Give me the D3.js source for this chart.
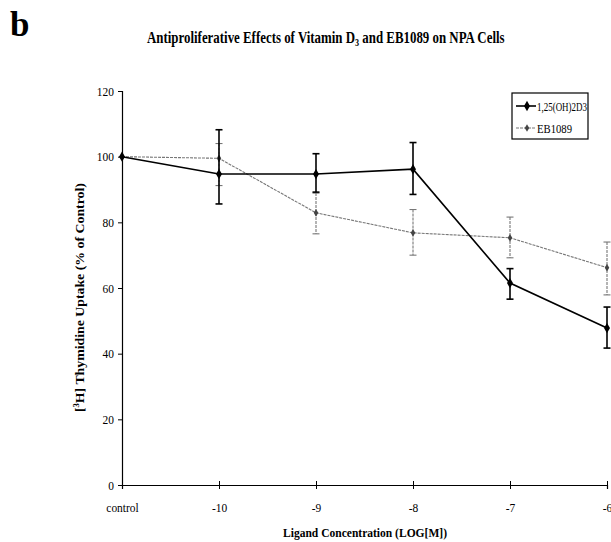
<!DOCTYPE html>
<html>
<head>
<meta charset="utf-8">
<script src="https://cdn.jsdelivr.net/npm/d3@7"></script>
<style>
  body { margin: 0; background: #fff; }
  text { font-family: "Liberation Serif", "Times New Roman", serif; }
</style>
</head>
<body>
<script>
// categories on the x axis (log molar concentration)
const doses = ["control", "-10", "-9", "-8", "-7", "-6"];

// 1,25(OH)2D3
const calcitriolMean = [100, 94.7, 94.7, 96.2, 61.5, 47.8];
const calcitriolHi   = [100, 108.2, 100.9, 104.3, 65.9, 54.2];
const calcitriolLo   = [100, 85.6, 89.2, 88.5, 56.6, 41.7];

// EB1089
const ebMean = [100, 99.5, 82.9, 76.8, 75.3, 66.2];
const ebHi   = [100, 104.0, 88.9, 83.9, 81.6, 74.0];
const ebLo   = [100, 91.2, 76.5, 70.0, 69.2, 57.9];

const yTicks = [0, 20, 40, 60, 80, 100, 120];

const width = 611, height = 542;
const margin = {top: 91, right: 4, bottom: 57, left: 122};

const svg = d3.select("body").append("svg")
  .attr("width", width)
  .attr("height", height)
  .style("overflow", "visible");

const x = d3.scalePoint()
  .domain(doses)
  .range([margin.left, width - margin.right]);

const y = d3.scaleLinear()
  .domain([0, 120])
  .range([height - margin.bottom, margin.top]);

// the scan uses a narrow Times, so squeeze text to the measured widths
function squeeze(sel, w) {
  sel.attr("textLength", w).attr("lengthAdjust", "spacingAndGlyphs");
}

// panel letter and title
svg.append("text")
  .attr("x", 10).attr("y", 36)
  .attr("font-size", 35).attr("font-weight", "bold")
  .text("b");

// title squeezed with a horizontal scale (keeps the subscript in place)
const titleG = svg.append("g").attr("transform", "translate(147,43)");
const title = titleG.append("text")
  .attr("font-size", 16).attr("font-weight", "bold");
title.append("tspan").text("Antiproliferative Effects of Vitamin D");
title.append("tspan").attr("font-size", 10).attr("dy", 3).text("3");
title.append("tspan").attr("dy", -3).text(" and EB1089 on NPA Cells");
const tw = title.node().getComputedTextLength();
title.attr("transform", `scale(${358 / tw},1)`);

// y axis
const yAxis = svg.append("g")
  .attr("transform", `translate(${margin.left},0)`)
  .call(d3.axisLeft(y).tickValues(yTicks).tickSize(4).tickPadding(4));
yAxis.select(".domain").attr("stroke", "#000").attr("stroke-width", 1.2);
yAxis.selectAll("text").attr("font-size", 13).attr("font-family", "Liberation Serif")
  .attr("transform", "scale(0.88,1)").attr("x", -8 / 0.88);

// x axis with crossing ticks
const xAxis = svg.append("g")
  .attr("transform", `translate(0,${y(0)})`)
  .call(d3.axisBottom(x).tickSizeOuter(0).tickSize(4).tickPadding(14));
xAxis.select(".domain").attr("stroke", "#000").attr("stroke-width", 1.2);
xAxis.selectAll(".tick line").attr("y1", -4);
xAxis.selectAll(".tick").filter(d => d === "control").select("line").remove();
xAxis.selectAll("text").attr("font-size", 13).attr("font-family", "Liberation Serif")
  .attr("transform", "scale(0.88,1)");

// axis titles
const ylG = svg.append("g").attr("transform", "translate(84,412) rotate(-90)");
const yl = ylG.append("text")
  .attr("font-size", 13).attr("font-weight", "bold");
yl.append("tspan").text("[");
yl.append("tspan").attr("font-size", 8).attr("dy", -5).text("3");
yl.append("tspan").attr("dy", 5).text("H] Thymidine Uptake (% of Control)");
const yw = yl.node().getComputedTextLength();
yl.attr("transform", `scale(${229 / yw},1)`);

const xl = svg.append("text")
  .attr("x", 283).attr("y", 537)
  .attr("font-size", 13).attr("font-weight", "bold")
  .text("Ligand Concentration (LOG[M])");
squeeze(xl, 164);

function makeRows(mean, hi, lo) {
  return doses.map((d, i) => ({dose: d, mean: mean[i], hi: hi[i], lo: lo[i]}));
}

const series = [
  {name: "1,25(OH)2D3", rows: makeRows(calcitriolMean, calcitriolHi, calcitriolLo),
   color: "#000", width: 1.6, dash: null, r: 3.2, labelW: 50},
  {name: "EB1089", rows: makeRows(ebMean, ebHi, ebLo),
   color: "#777", width: 1.1, dash: "3,1", r: 2.4, labelW: 35}
];

const line = d3.line().x(d => x(d.dose)).y(d => y(d.mean));
const diamond = d3.symbol().type(d3.symbolDiamond);

// draw EB1089 first so the black series sits on top
series.slice().reverse().forEach(s => {
  const g = svg.append("g");
  const bars = s.rows.filter(d => d.hi !== d.lo);
  g.selectAll("line.err")
    .data(bars).join("line")
    .attr("x1", d => x(d.dose)).attr("x2", d => x(d.dose))
    .attr("y1", d => y(d.hi)).attr("y2", d => y(d.lo))
    .attr("stroke", s.color).attr("stroke-width", s.width)
    .attr("stroke-dasharray", s.dash);
  ["hi", "lo"].forEach(k => {
    g.selectAll("line.cap-" + k)
      .data(bars).join("line")
      .attr("x1", d => x(d.dose) - 3.5).attr("x2", d => x(d.dose) + 3.5)
      .attr("y1", d => y(d[k])).attr("y2", d => y(d[k]))
      .attr("stroke", s.color).attr("stroke-width", s.width);
  });
  g.append("path")
    .datum(s.rows)
    .attr("d", line)
    .attr("fill", "none")
    .attr("stroke", s.color).attr("stroke-width", s.width)
    .attr("stroke-dasharray", s.dash);
  g.selectAll("path.pt")
    .data(s.rows).join("path")
    .attr("class", "pt")
    .attr("transform", d => `translate(${x(d.dose)},${y(d.mean)})`)
    .attr("d", diamond.size(s.r * s.r * 3)())
    .attr("fill", s.color === "#000" ? "#000" : "#444");
});

// legend
const lg = svg.append("g").attr("transform", "translate(512,93)");
lg.append("rect")
  .attr("width", 76).attr("height", 46)
  .attr("fill", "#fff").attr("stroke", "#000").attr("stroke-width", 1.2);
series.forEach((s, i) => {
  const yy = 13 + i * 22;
  lg.append("line")
    .attr("x1", 4).attr("x2", 24).attr("y1", yy).attr("y2", yy)
    .attr("stroke", s.color).attr("stroke-width", s.width)
    .attr("stroke-dasharray", s.dash);
  lg.append("path")
    .attr("transform", `translate(15,${yy})`)
    .attr("d", diamond.size(s.r * s.r * 3)())
    .attr("fill", s.color === "#000" ? "#000" : "#444");
  const t = lg.append("text")
    .attr("x", 25).attr("y", yy + 4.5)
    .attr("font-size", 13)
    .text(s.name);
  squeeze(t, s.labelW);
});
</script>
</body>
</html>
